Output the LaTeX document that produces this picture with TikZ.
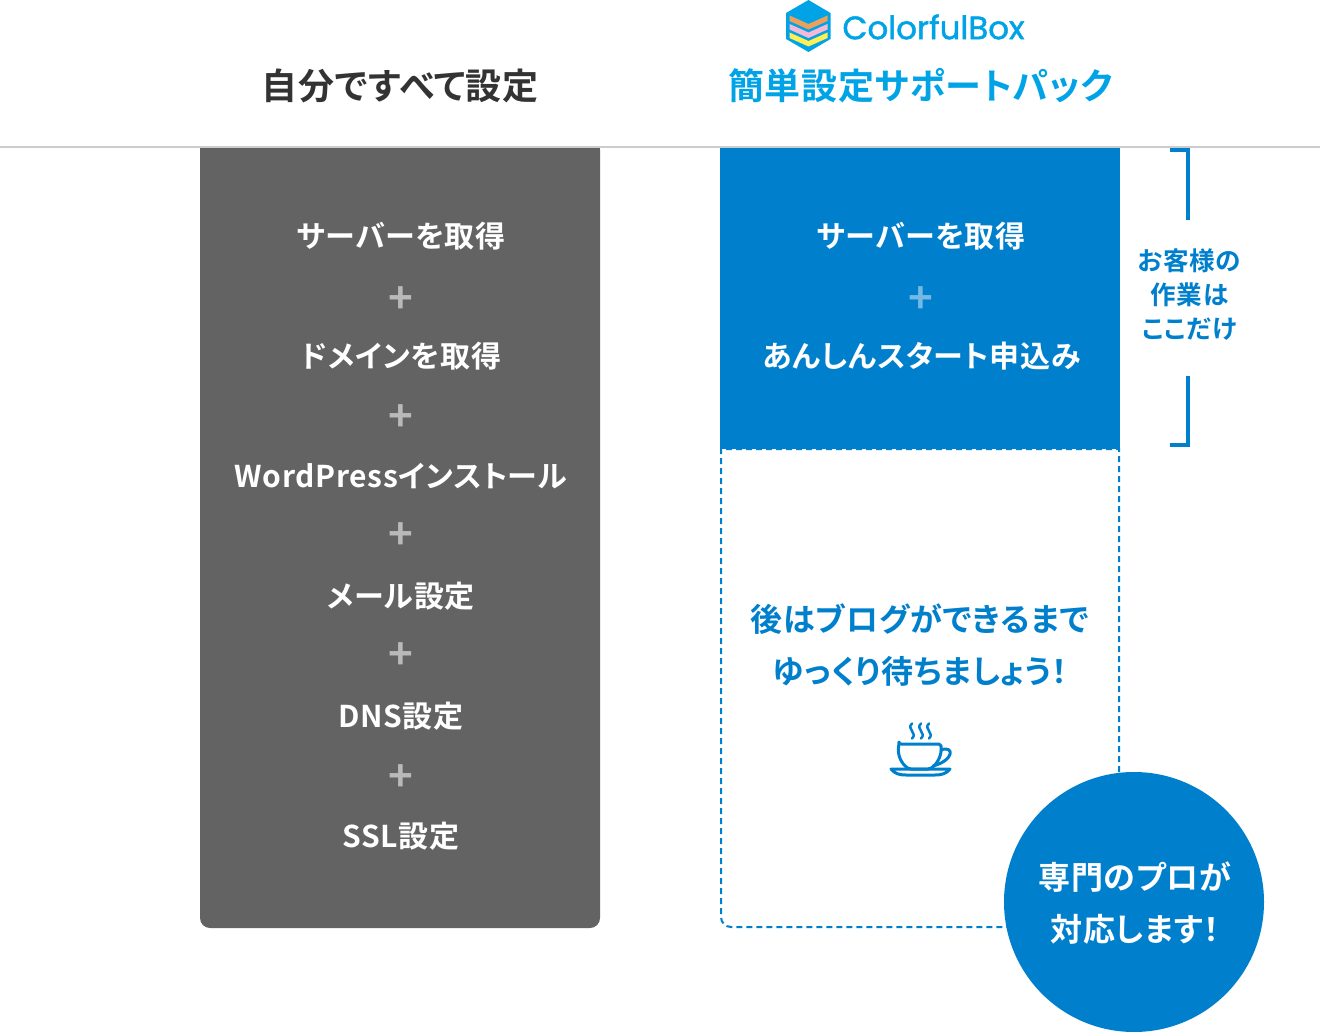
\documentclass[tikz,border=0pt]{standalone}
\usepackage{fontspec}
\usepackage{xcolor}
\setmainfont{Noto Sans CJK JP}[BoldFont={Noto Sans CJK JP Bold},RawFeature=+palt,LetterSpace=2.2]
\newfontfamily\logofont{Poppins}[FakeBold=1.4]
\definecolor{boxgray}{HTML}{636363}
\definecolor{packblue}{HTML}{007FCC}
\definecolor{logoblue}{HTML}{00A4E6}
\definecolor{headink}{HTML}{333333}
\definecolor{rulegray}{HTML}{CCCCCC}
\tikzset{
    itemlabel/.style={font=\fontsize{30}{30}\selectfont\bfseries, white},
    pluslabel/.style={font=\fontsize{42}{42}\selectfont\bfseries, inner sep=0pt},
    headlabel/.style={font=\fontsize{36}{36}\selectfont\bfseries},
    notelabel/.style={font=\fontsize{32}{52}\selectfont\bfseries, packblue, align=center},
    bracketline/.style={packblue, line width=4pt}
}
\begin{document}
\begin{tikzpicture}[x=1pt,y=-1pt]
\useasboundingbox (0,0) rectangle (1320,1032);
% column headings
\node[headlabel, headink] (headself) at (400,86) {自分ですべて設定};
\node[headlabel, logoblue] (headpack) at (920.5,86) {簡単設定サポートパック};
\draw[rulegray, line width=2pt] (0,147) -- (1320,147);
% logo
\fill[logoblue] (808.5,0) -- (830.5,13) -- (830.5,39) -- (808.5,52) -- (786,39) -- (786,13) -- cycle;
\foreach \y/\c in {15.5/EDA05E, 24/F7B8D6, 32.5/FFEF55}{
    \definecolor{chevron}{HTML}{\c}
    \fill[chevron] (789.5,\y) -- (808.5,\y+8.5) -- (827.5,\y) -- (827.5,\y+5.5) -- (808.5,\y+14) -- (789.5,\y+5.5) -- cycle;
}
\node[logoblue, font=\logofont\fontsize{32.4}{32}\selectfont] (logoname) at (933.5,27) {ColorfulBox};
% left column
\fill[boxgray, rounded corners=10pt] (200,140) rectangle (600,928);
\fill[boxgray] (200,148) rectangle (600,170);
\fill[white] (200,130) rectangle (600,146);
\draw[rulegray, line width=2pt] (190,147) -- (610,147);
\foreach \y/\p/\labeltext in {236/srv/サーバーを取得, 356/dom/ドメインを取得, 476/wp/WordPressインストール, 596/mail/メール設定, 716/dns/DNS設定, 836/ssl/SSL設定}{
    \node[itemlabel] (\p) at (401,\y) {\labeltext};
}
\foreach \y/\p in {300/a, 418/b, 536/c, 656/d, 778/e}{
    \node[pluslabel, white!55!boxgray] (plus\p) at (400.5,\y) {+};
}
% right column
\fill[packblue] (720,148) rectangle (1120,448.5);
\node[itemlabel] (srvpack) at (921,236) {サーバーを取得};
\node[pluslabel, white!45!packblue] (pluspack) at (920.5,300) {+};
\node[itemlabel] (startpack) at (921.5,356) {あんしんスタート申込み};
\draw[packblue, line width=2pt, dash pattern=on 6pt off 4pt] (1119,772) -- (1119,449) -- (721,449) -- (721,880) [rounded corners=10pt] -- (721,927) -- (1010,927);
\node[notelabel] (wait) at (920,645) {後はブログができるまで\\ゆっくり待ちましょう！};
% cup
\begin{scope}[packblue, line width=3pt, line cap=round, line join=round]
\foreach \x in {912,921,929}{
    \draw[line width=2.5pt] (\x,723.5) .. controls (\x-6,729) and (\x+6,733) .. (\x,738.5);
}
\draw[rounded corners=2pt] (899,744) -- (941,744) .. controls (942,756) and (937,764) .. (930,769) -- (909,769) .. controls (902,764) and (897,756) .. (899,744) -- cycle;
\draw (941,750) .. controls (954,745) and (955,760) .. (933,766);
\draw (891,769) -- (950,769) .. controls (946,774) and (941,775) .. (935,775) -- (906,775) .. controls (900,775) and (895,774) .. (891,769) -- cycle;
\end{scope}
% bracket
\node[font=\fontsize{25.6}{34}\selectfont\bfseries, packblue, align=center] (yours) at (1189.5,295) {お客様の\\作業は\\ここだけ};
\draw[bracketline] (1170,150) -- (1188,150) -- (1188,220);
\draw[bracketline] (1188,376) -- (1188,445) -- (1170,445);
% badge
\node[circle, fill=packblue, minimum size=260pt, inner sep=0pt] (badge) at (1134,902) {};
\node[notelabel, white] (badgetext) at (1135,903) {専門のプロが\\対応します！};
\end{tikzpicture}
\end{document}
